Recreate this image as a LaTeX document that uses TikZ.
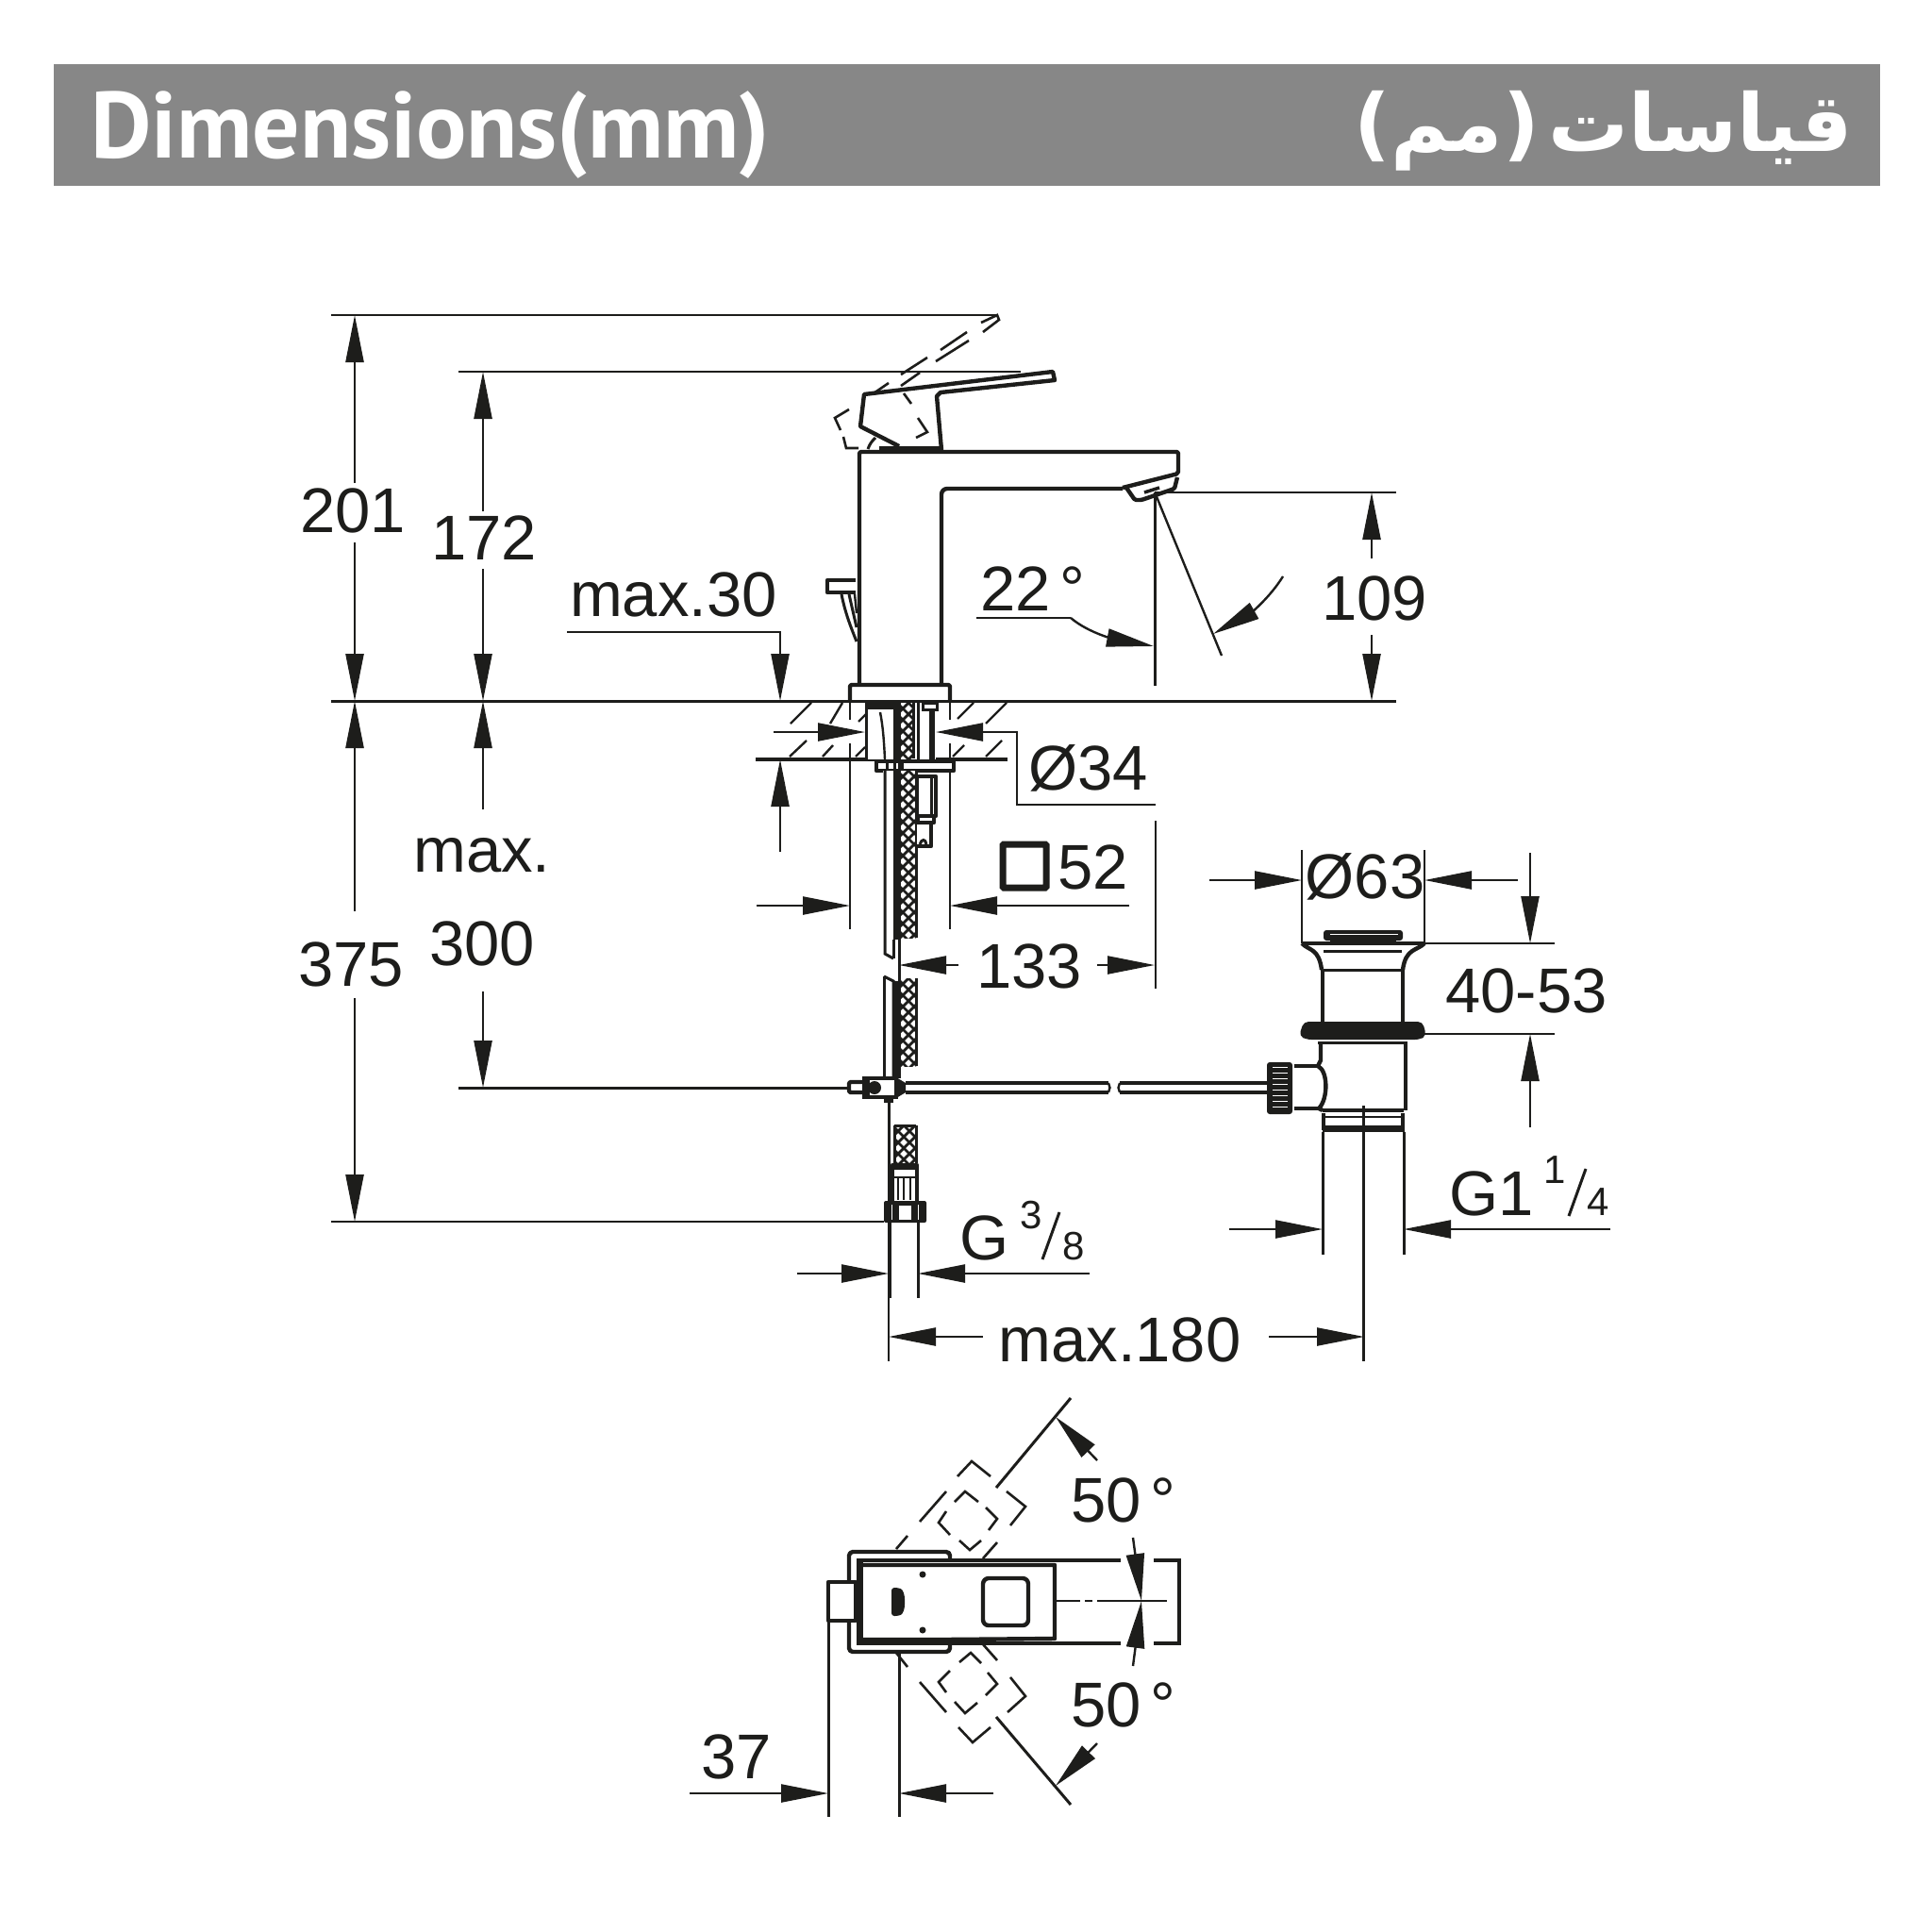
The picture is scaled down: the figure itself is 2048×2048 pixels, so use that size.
\documentclass[tikz,border=0pt]{standalone}
\usepackage{fontspec}
\usetikzlibrary{arrows.meta}
\setmainfont{Liberation Sans}
\newfontfamily\headfont{PT Sans}
\newfontfamily\arabicfont[Script=Arabic]{DejaVu Sans}
\TeXXeTstate=1
\definecolor{ink}{HTML}{1D1D1B}
\definecolor{band}{HTML}{878787}
\tikzset{
  x=1pt,y=-1pt,
  arr/.tip={Triangle[length=50pt,width=19pt]},
  thinl/.style={draw=ink,line width=2.4pt},
  midl/.style={draw=ink,line width=3pt},
  bodyl/.style={draw=ink,line width=4.4pt,line join=round},
  heavy/.style={draw=ink,line width=5.5pt},
  dashl/.style={draw=ink,line width=2.6pt},
  dimar/.style={thinl,-{arr}},
  lbl/.style={inner sep=0pt,text=ink,font=\fontsize{67}{67}\selectfont},
  small/.style={inner sep=0pt,text=ink,font=\fontsize{42}{42}\selectfont,anchor=base west},
}
\newcommand{\braid}[4]{%
  \begin{scope}
    \clip (#1,#3) rectangle (#2,#4);
    \fill[white] (#1,#3) rectangle (#2,#4);
    \foreach \k in {-4,...,40}{
      \draw[ink,line width=2.8pt] (#1-2,{#3+\k*12}) -- ++(40,-40);
      \draw[ink,line width=2.8pt] (#1-2,{#3+\k*12}) -- ++(40,40);
    }
  \end{scope}
  \draw[midl] (#1,#3) -- (#1,#4);
  \draw[midl] (#2,#3) -- (#2,#4);
}
\begin{document}
\begin{tikzpicture}
\useasboundingbox (0,0) rectangle (2048,2048);
\fill[white] (0,0) rectangle (2048,2048);
% header
\fill[band] (57,68) rectangle (1993,197);
\node[anchor=base west,inner sep=0pt,text=white] (headen) at (96,167)
  {\resizebox{720pt}{!}{\headfont\bfseries\fontsize{100}{100}\selectfont Dimensions(mm)}};
\node[anchor=base east,inner sep=0pt,text=white] (headar) at (1964,160)
  {\resizebox{528pt}{!}{\arabicfont\bfseries\fontsize{92}{92}\selectfont\spaceskip=0.12em\beginR قياسات (مم)\endR}};

% extension lines
\draw[thinl] (351,334) -- (1057,334);
\draw[thinl] (486,394) -- (1082,394);
\draw[midl] (351,743) -- (1480,743);
\draw[thinl] (1224,522) -- (1480,522);
\draw[midl] (486,1153) -- (898,1153);
\draw[thinl] (351,1295) -- (937,1295);
% 201
\draw[dimar] (376,512) -- (376,334);
\draw[dimar] (376,575) -- (376,743);
\node[lbl,anchor=base] (t201) at (374,564) {201};
% 172
\draw[dimar] (512,542) -- (512,394);
\draw[dimar] (512,603) -- (512,743);
\node[lbl,anchor=base] (t172) at (513,593) {172};
% max.30
\node[lbl,anchor=base] (tmax30) at (714,653) {max.30};
\draw[thinl,-{arr}] (601,670) -- (827,670) -- (827,743);
\draw[dimar] (827,903) -- (827,805);
% max 300
\draw[dimar] (512,858) -- (512,743);
\draw[dimar] (512,1051) -- (512,1153);
\node[lbl,anchor=base] (tmax) at (511,924) {max.};
\node[lbl,anchor=base] (t300) at (511,1023) {300};
% 375
\draw[dimar] (376,966) -- (376,743);
\draw[dimar] (376,1058) -- (376,1295);
\node[lbl,anchor=base] (t375) at (372,1045) {375};
% 109
\draw[dimar] (1454,592) -- (1454,522);
\draw[dimar] (1454,673) -- (1454,743);
\node[lbl,anchor=base west] (t109) at (1401,657) {109};

% faucet body
\draw[bodyl,rounded corners=2pt] (911,726) -- (911,479) -- (1249,479) -- (1249,502) -- (1190,517);
\draw[bodyl,rounded corners=6pt] (1190,518) -- (998,518) -- (998,726);
\draw[bodyl,rounded corners=1.5pt] (1194,517) -- (1203,530) -- (1210,530) -- (1245,518) -- (1248,506);
\draw[ink,line width=3.5pt] (1213,522) -- (1229,517);
\draw[bodyl,rounded corners=1.5pt] (901,743) -- (901,726) -- (1007,726) -- (1007,743);
% handle
\draw[bodyl] (953,473) -- (912,452) -- (916,418) -- (1116,394) -- (1118,403) -- (997,416) -- (993,420) -- (998,477);
\draw[ink,line width=4.5pt] (932,475) -- (998,475);
\draw[midl] (920,476) .. controls (922,470) and (925,467) .. (928,464);
% dashed handle
\draw[dashl] (955,397) -- (983,379);
\draw[dashl] (997,371) -- (1025,352);
\draw[dashl] (1040,342) -- (1057,334) -- (1059,339) -- (1042,352);
\draw[dashl] (992,383) -- (1027,361);
\draw[dashl] (955,409) -- (975,395);
\draw[dashl] (958,417) -- (966,428);
\draw[dashl] (973,443) -- (983,458) -- (971,464);
\draw[dashl] (926,417) -- (942,406);
\draw[dashl] (900,434) -- (885,443) -- (891,456);
\draw[dashl] (894,463) -- (897,475) -- (910,475);
% pop-up lever
\draw[bodyl] (907,615) -- (877,615) -- (877,628) -- (907,628);
\draw[midl] (892,630) .. controls (896,650) and (902,665) .. (908,680);
\draw[midl] (900,630) -- (908,665);
\draw[thinl] (906,630) -- (908,650);

% 22 degree
\draw[midl] (1224,522) -- (1224,727);
\draw[thinl] (1225,524) -- (1295,695);
\node[lbl,anchor=base west] (t22) at (1039,647) {22\hspace{10pt}°};
\draw[thinl] (1035,655) -- (1135,655);
\draw[thinl,-{arr}] (1135,655) .. controls (1155,672) and (1185,678) .. (1223,685);
\draw[thinl,-{arr}] (1360,611) .. controls (1345,635) and (1325,650) .. (1286,672);

% floor hatch
\foreach \a/\b/\c/\d in {838/767/860/745, 880/767/893/745, 910/765/918/757, 1015/762/1032/745, 1045/767/1067/745,
  837/802/855/785, 872/802/883/790, 907/802/917/792, 1010/802/1022/790, 1045/802/1062/785}
  {\draw[thinl] (\a,\b) -- (\c,\d);}
\draw[midl,line width=3.6pt] (801,805) -- (1068,805);
% extension lines of 52
\draw[thinl] (901,743) -- (901,763) (901,788) -- (901,985);
\draw[thinl] (1007,743) -- (1007,763) (1007,788) -- (1007,985);

% column below the deck
\fill[white] (917,746) rectangle (992,805);
\draw[midl] (918,745) -- (918,805);
\fill[ink] (920,745) rectangle (950,752);
\draw[thinl] (933,755) .. controls (936,770) and (937,785) .. (938,805);
\fill[ink] (947,745) rectangle (953,817);
\braid{953}{968}{745}{804}
\draw[midl] (973,745) -- (973,805);
\draw[ink,line width=6pt] (988,752) -- (988,805);
\draw[midl,fill=white] (978,745) rectangle (993,752);
% flange
\draw[bodyl,fill=white] (929,807) rectangle (1011,817);
\draw[midl] (940,807) -- (940,817) (948,807) -- (948,817) (956,807) -- (956,817);
% hose upper
\fill[white] (936,817) rectangle (972,1016);
\draw[midl] (938,817) -- (938,1011) -- (947,1016);
\fill[ink] (947,817) rectangle (952,996);
\draw[midl] (947,996) -- (947,1016);
\braid{953}{971}{817}{994}
\draw[midl] (953,745) -- (953,1143);
% valve
\draw[bodyl,fill=white] (972,823) rectangle (992,865);
\draw[midl] (987,823) -- (987,865);
\draw[bodyl,fill=white] (973,865) rectangle (990,872);
\draw[bodyl,fill=white] (972,872) -- (987,872) -- (987,897) -- (972,897);
\draw[midl] (975,895) .. controls (977,889) and (981,889) .. (982,895);
% hose middle
\draw[midl] (937,1035) -- (937,1143);
\draw[midl] (937,1035) -- (947,1040) -- (947,1143);
\braid{953}{971}{1037}{1130}
\fill[ink] (947,1040) rectangle (952,1143);
\draw[midl] (953,1037) -- (953,1143);
% tee
\draw[bodyl,rounded corners=2pt,fill=white] (915,1147) -- (900,1147) -- (900,1158) -- (915,1158);
\draw[ink,line width=4pt,fill=white] (916,1143) rectangle (950,1163);
\fill[ink] (927,1153) circle (7pt);
\fill[ink] (916,1143) rectangle (922,1163);
\fill[ink] (950,1142) -- (960,1148) -- (960,1158) -- (950,1164) -- cycle;
\fill[ink] (937,1163) rectangle (947,1169);
% rod
\draw[draw=ink,line width=3.6pt] (960,1148) -- (1175,1148) (960,1158) -- (1175,1158);
\draw[draw=ink,line width=3.6pt] (1187,1148) -- (1343,1148) (1187,1158) -- (1343,1158);
\draw[thinl] (1175,1148) -- (1176.5,1153) -- (1175,1158) (1187,1148) -- (1185.5,1153) -- (1187,1158);

% lower hose end
\draw[midl] (942,1169) -- (942,1273);
\braid{948}{971}{1193}{1233}
\draw[midl] (948,1193) -- (971,1193);
\draw[bodyl,fill=white] (946,1235) rectangle (972,1275);
\fill[ink] (947,1236) -- (971,1236) -- (971,1240) -- (947,1240) -- cycle;
\fill[ink] (947,1247) rectangle (971,1249);
\draw[thinl] (952,1248) -- (952,1272) (958,1248) -- (958,1272) (965,1248) -- (965,1272);
\fill[ink,rounded corners=2pt] (937,1273) rectangle (982,1296);
\fill[white] (953,1278) rectangle (966,1293);
\fill[white] (945,1277) rectangle (946,1293);
\fill[white] (973,1277) rectangle (974,1293);
\draw[bodyl] (943,1295) -- (943,1376);
\draw[midl] (973,1295) -- (973,1376);
\draw[thinl] (942,1376) -- (942,1443);
% G 3/8
\draw[dimar] (845,1350) -- (942,1350);
\draw[dimar] (1155,1350) -- (973,1350);
\node[lbl,anchor=base west] (tg) at (1017,1335) {G};
\node[small] (tg3) at (1081,1302) {3};
\draw[draw=ink,line width=3pt] (1105,1335) -- (1123,1285);
\node[small] (tg8) at (1126,1335) {8};
% 133
\draw[dimar] (1016,1023) -- (953,1023);
\draw[dimar] (1163,1023) -- (1224,1023);
\node[lbl,anchor=base west] (t133) at (1035,1047) {133};
\draw[thinl] (1225,870) -- (1225,1048);
% 52
\draw[dimar] (802,960) -- (901,960);
\draw[dimar] (1197,960) -- (1007,960);
\draw[draw=ink,line width=7pt,rounded corners=1pt] (1063,895) rectangle (1109,941);
\node[lbl,anchor=base west] (t52) at (1121,942) {52};
% Ø34
\draw[dimar] (820,776) -- (917,776);
\draw[thinl,-{arr}] (1225,853) -- (1078,853) -- (1078,776) -- (992,776);
\node[lbl,anchor=base west] (t34) at (1090,837) {Ø34};

% drain
\draw[thinl] (1380,901) -- (1380,1000);
\draw[thinl] (1510,901) -- (1510,1000);
\draw[dimar] (1282,933) -- (1380,933);
\draw[dimar] (1609,933) -- (1510,933);
\node[lbl,anchor=base] (t63) at (1447,952) {Ø63};
\draw[thinl] (1510,1000) -- (1648,1000);
\draw[thinl] (1510,1096) -- (1648,1096);
\draw[dimar] (1622,904) -- (1622,1000);
\draw[dimar] (1622,1195) -- (1622,1096);
\node[lbl,anchor=base] (t4053) at (1618,1073) {40-53};
% plug
\fill[ink,rounded corners=3pt] (1403,986) rectangle (1487,997);
\draw[draw=white,line width=1pt] (1410,990) -- (1482,990);
\draw[ink,line width=4pt] (1410,998) -- (1480,998);
% flange top
\draw[ink,line width=4pt] (1380,1000) -- (1510,1000);
\draw[bodyl] (1380,1000) .. controls (1388,1008) and (1398,1005) .. (1401,1028);
\draw[bodyl] (1510,1000) .. controls (1502,1008) and (1490,1005) .. (1487,1028);
\draw[midl] (1403,1008) -- (1486,1008);
\draw[midl] (1403,1028) -- (1486,1028);
\draw[bodyl] (1402,1028) -- (1402,1084);
\draw[bodyl] (1487,1028) -- (1487,1084);
% ring
\fill[ink,rounded corners=5pt] (1382,1083) -- (1508,1083) -- (1512,1098) -- (1505,1102) -- (1385,1102) -- (1377,1098) -- cycle;
\draw[midl] (1397,1105) -- (1492,1105);
% body
\draw[bodyl] (1400,1105) -- (1400,1124) -- (1397,1130) .. controls (1408,1135) and (1408,1165) .. (1398,1175) -- (1402,1177);
\draw[bodyl] (1490,1105) -- (1490,1177);
\draw[bodyl] (1372,1130) -- (1397,1130);
\draw[bodyl] (1372,1175) -- (1398,1175);
% knurl
\fill[ink,rounded corners=3pt] (1343,1126) rectangle (1370,1181);
\foreach \yy in {1131,1137,1143,1149,1155,1161,1167,1173}
  {\draw[draw=white,line width=1pt] (1349,\yy) -- (1365,\yy);}
% collar
\draw[bodyl] (1402,1177) -- (1488,1177);
\draw[bodyl] (1403,1180) -- (1403,1198);
\draw[bodyl] (1487,1180) -- (1487,1198);
\fill[ink] (1402,1193) rectangle (1489,1200);
\draw[thinl] (1404,1184) -- (1486,1184);
% pipes
\draw[midl] (1402,1200) -- (1402,1330);
\draw[midl] (1488,1200) -- (1488,1330);
\draw[midl] (1445,1172) -- (1445,1443);
% G1 1/4
\draw[dimar] (1303,1303) -- (1402,1303);
\draw[dimar] (1707,1303) -- (1488,1303);
\node[lbl,anchor=base west] (tg1) at (1536,1288) {G1};
\node[small] (tg11) at (1636,1254) {1};
\draw[draw=ink,line width=3pt] (1663,1289) -- (1681,1239);
\node[small] (tg14) at (1682,1288) {4};
% max.180
\draw[dimar] (1042,1417) -- (942,1417);
\draw[dimar] (1345,1417) -- (1446,1417);
\node[lbl,anchor=base] (t180) at (1187,1443) {max.180};

% top view
\draw[bodyl,rounded corners=4pt] (1007,1654) -- (1007,1645) -- (900,1645) -- (900,1751) -- (1007,1751) -- (1007,1742);
\draw[ink,line width=4pt] (910,1654) -- (1188,1654);
\draw[ink,line width=4pt] (910,1742) -- (1188,1742);
\draw[ink,line width=4pt] (1223,1654) -- (1250,1654) -- (1250,1742) -- (1223,1742);
\fill[ink] (908,1652) rectangle (915,1744);
\draw[bodyl] (915,1659) -- (1118,1659) -- (1118,1737) -- (1000,1738) -- (915,1738);
\draw[bodyl,rounded corners=6pt] (1042,1673) rectangle (1090,1723);
\fill[ink,rounded corners=3pt] (945,1683) -- (952,1683) .. controls (957,1685) and (959,1690) .. (959,1698) .. controls (959,1706) and (957,1711) .. (952,1713) -- (945,1713) -- cycle;
\fill[ink] (978,1669) circle (3.5pt);
\fill[ink] (978,1728) circle (3.5pt);
\draw[bodyl,fill=white] (878,1677) rectangle (907,1718);
\draw[midl] (878,1718) -- (878,1926);
\draw[midl] (953,1751) -- (953,1926);
% centre line
\draw[thinl] (1119,1697) -- (1145,1697);
\draw[thinl] (1150,1697) -- (1158,1697);
\draw[thinl] (1163,1697) -- (1237,1697);
% 50 degree arrows
\draw[dimar] (1201,1630) -- (1210,1697);
\draw[dimar] (1201,1766) -- (1210,1697);
% dashed upper
\foreach \p in {{(1015,1565) -- (1030,1549) -- (1050,1565)},{(1067,1581) -- (1087,1597) -- (1071,1617)},{(975,1613) -- (1003,1581)},{(950,1642) -- (962,1628)},{(1042,1652) -- (1057,1635)},
 {(1012,1592) -- (1023,1581) -- (1037,1592)},{(1045,1598) -- (1057,1610) -- (1048,1622)},{(1017,1633) -- (1028,1643) -- (1040,1633)},{(1007,1627) -- (995,1614) -- (1003,1602)},
 {(950,1752) -- (962,1767)},{(975,1783) -- (1003,1815)},{(1042,1743) -- (1057,1760)},{(1071,1778) -- (1087,1798) -- (1068,1815)},{(1016,1831) -- (1031,1847) -- (1050,1831)},
 {(1017,1762) -- (1029,1752) -- (1040,1763)},{(1047,1773) -- (1057,1785) -- (1045,1797)},{(1036,1805) -- (1023,1816) -- (1012,1804)},{(1003,1794) -- (995,1783) -- (1007,1771)}}
 {\draw[dashl] \p;}
% angle limits
\draw[midl] (1056,1577) -- (1135,1482);
\draw[midl] (1056,1820) -- (1135,1913);
\draw[thinl,-{arr}] (1163,1548) -- (1119,1502);
\draw[thinl,-{arr}] (1163,1848) -- (1119,1893);
\node[lbl,anchor=base west] (t50a) at (1135,1613) {50\hspace{10pt}°};
\node[lbl,anchor=base west] (t50b) at (1135,1830) {50\hspace{10pt}°};
% 37
\draw[dimar] (731,1901) -- (878,1901);
\draw[dimar] (1053,1901) -- (953,1901);
\node[lbl,anchor=base] (t37) at (781,1885) {37};
\end{tikzpicture}
\end{document}
